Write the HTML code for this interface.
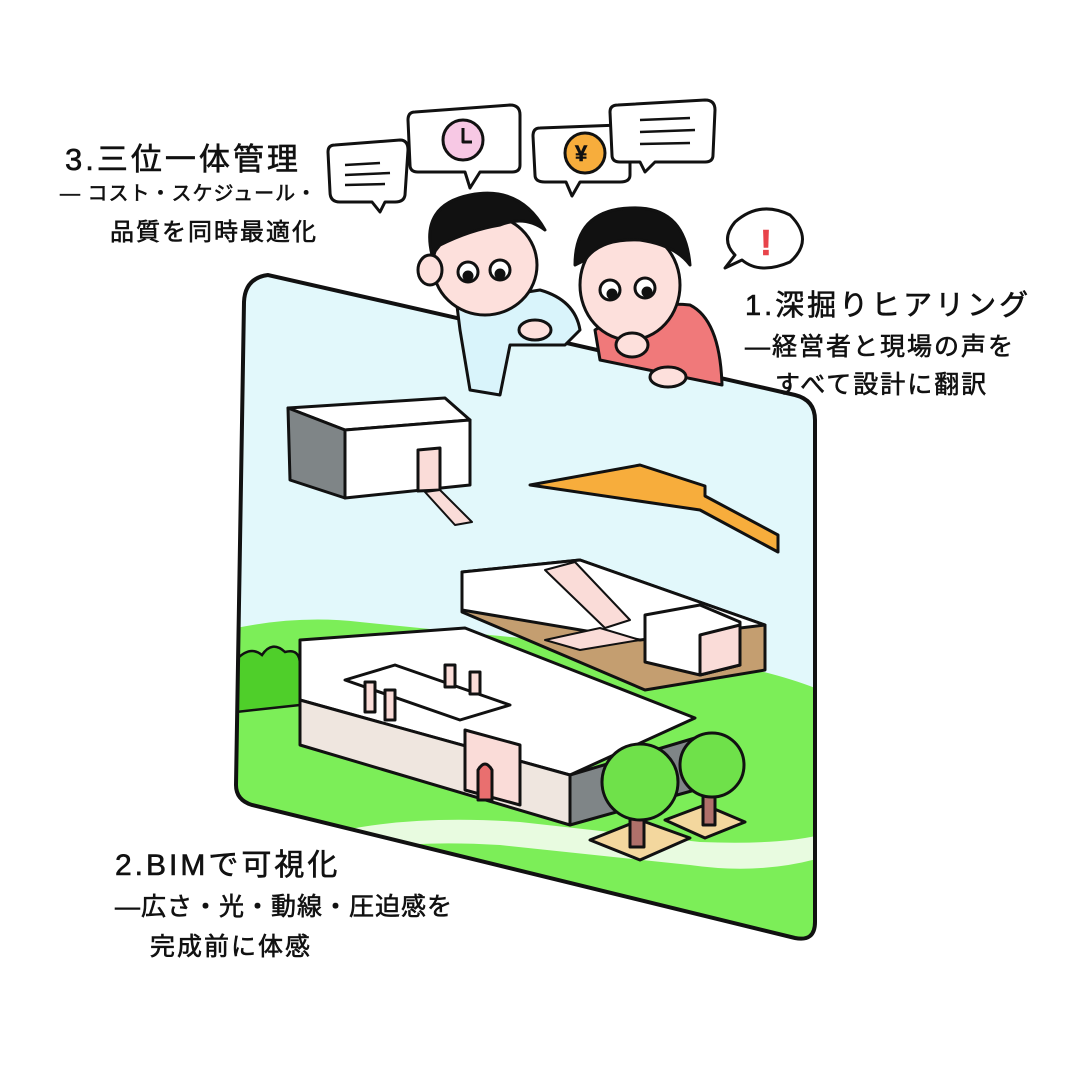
<!DOCTYPE html>
<html><head><meta charset="utf-8"><style>
html,body{margin:0;padding:0;background:#fff}
svg{display:block}
text{font-family:"Liberation Sans","Noto Sans CJK JP",sans-serif;fill:#111;stroke:#111;stroke-width:0.6}
</style></head><body>
<svg width="1072" height="1080" viewBox="0 0 1072 1080" xmlns="http://www.w3.org/2000/svg">
<defs>
<clipPath id="pc"><path d="M268,275 Q245,278 244,302 L236,785 Q236,800 252,805 L795,938 Q815,942 815,922 L815,420 Q815,400 795,395 Z"/></clipPath>
</defs>
<g clip-path="url(#pc)">
<rect x="230" y="260" width="600" height="700" fill="#e2f8fb"/>
<path d="M236,628 Q300,615 360,622 L640,650 Q760,665 820,690 L820,960 L230,960 Z" fill="#7cee58"/>
<path d="M345,830 Q420,815 520,822 L700,842 Q780,845 820,835 L820,858 Q760,875 690,865 L500,845 Q420,840 355,850 Z" fill="#e8fbe0"/>
<path d="M236,660 Q250,645 262,655 Q272,640 285,652 Q300,648 300,665 L300,705 L236,712 Z" fill="#4fcf2a" stroke="#111" stroke-width="2.5"/>
</g>
<path d="M268,275 Q245,278 244,302 L236,785 Q236,800 252,805 L795,938 Q815,942 815,922 L815,420 Q815,400 795,395 Z" fill="none" stroke="#111" stroke-width="4"/>

<g stroke="#111" stroke-width="3" stroke-linejoin="round">
<polygon points="288,408 445,398 470,420 345,430" fill="#fff"/>
<polygon points="288,408 345,430 345,498 290,480" fill="#7f8587"/>
<polygon points="345,430 470,420 470,485 345,498" fill="#fff"/>
<polygon points="418,450 440,448 440,490 418,491" fill="#fadcd8"/>
<polygon points="425,492 440,490 472,522 455,525" fill="#fadcd8" stroke-width="2"/>
<polygon points="530,485 640,465 705,486 705,496 778,535 778,552 700,510" fill="#f7ad3c"/>
<polygon points="462,572 580,560 765,625 765,670 645,690 462,612" fill="#c49e70"/>
<polygon points="462,572 580,560 765,625 640,640 462,610" fill="#fff"/>
<polygon points="545,570 575,562 630,620 605,628" fill="#fadcd8" stroke-width="2"/>
<polygon points="545,640 600,628 640,640 580,650" fill="#fadcd8" stroke-width="2"/>
<polygon points="645,615 700,605 740,622 740,665 700,675 645,662" fill="#fff"/>
<polygon points="700,635 740,625 740,665 700,675" fill="#fadcd8"/>
<polygon points="300,640 465,628 695,718 570,775 300,700" fill="#fff"/>
<polygon points="300,700 570,775 570,825 300,745" fill="#efe6df"/>
<polygon points="570,775 695,738 695,790 570,825" fill="#7f8587"/>
<polygon points="465,730 520,745 520,805 465,790" fill="#fadcd8"/>
<polygon points="345,680 395,665 510,705 460,720" fill="#fff"/>
<rect x="365" y="682" width="10" height="30" fill="#fadcd8"/>
<rect x="385" y="690" width="10" height="30" fill="#fadcd8"/>
<rect x="445" y="665" width="10" height="22" fill="#fadcd8"/>
<rect x="470" y="672" width="10" height="22" fill="#fadcd8"/>
<path d="M478,800 L478,770 Q485,758 492,770 L492,800 Z" fill="#e96f6f"/>
<polygon points="590,840 640,820 690,838 640,860" fill="#f3d79e"/>
<polygon points="665,820 705,805 745,822 705,838" fill="#f3d79e"/>
<rect x="630" y="795" width="14" height="52" fill="#b0706a"/>
<rect x="703" y="775" width="12" height="50" fill="#b0706a"/>
<circle cx="640" cy="782" r="38" fill="#6fe14a"/>
<circle cx="712" cy="765" r="32" fill="#6fe14a"/>
</g>

<g stroke="#111" stroke-width="3" stroke-linejoin="round">
<path d="M455,290 Q480,300 540,290 Q575,300 580,330 L565,345 L510,345 L500,395 L470,390 L460,330 Z" fill="#d9f4fb"/>
<ellipse cx="485" cy="265" rx="52" ry="50" fill="#fde0dc"/>
<path d="M432,255 Q420,205 470,195 Q520,185 545,230 Q525,215 500,225 Q470,230 440,245 Z" fill="#111"/>
<ellipse cx="430" cy="270" rx="12" ry="15" fill="#fde0dc"/>
<circle cx="468" cy="272" r="10" fill="#fff"/><circle cx="500" cy="270" r="10" fill="#fff"/>
<circle cx="468" cy="276" r="4" fill="#111"/><circle cx="500" cy="274" r="4" fill="#111"/>
<path d="M595,330 Q640,300 690,305 Q720,320 722,385 L600,360 Z" fill="#f0797a"/>
<ellipse cx="630" cy="285" rx="50" ry="55" fill="#fde0dc"/>
<path d="M575,265 Q575,210 630,208 Q685,205 690,265 Q675,245 640,240 Q600,238 585,260 Z" fill="#111"/>
<circle cx="610" cy="290" r="10" fill="#fff"/><circle cx="645" cy="288" r="10" fill="#fff"/>
<circle cx="612" cy="294" r="4" fill="#111"/><circle cx="647" cy="292" r="4" fill="#111"/>
<ellipse cx="632" cy="345" rx="16" ry="12" fill="#fde0dc"/>
<ellipse cx="668" cy="377" rx="18" ry="10" fill="#fde0dc"/>
<ellipse cx="535" cy="330" rx="16" ry="10" fill="#fde0dc"/>
<path d="M335,145 L400,140 Q408,140 408,150 L405,195 Q404,202 395,202 L385,202 L380,212 L372,202 L340,202 Q330,202 330,192 L328,152 Q328,145 335,145Z" fill="#fff"/>
<path d="M415,112 L510,105 Q520,105 520,115 L520,165 Q520,172 512,172 L480,172 L470,188 L465,172 L418,172 Q410,172 410,165 L408,120 Q408,112 415,112Z" fill="#fff"/>
<circle cx="463" cy="140" r="20" fill="#f7c8e4"/>
<path d="M540,128 L620,125 Q630,125 630,135 L630,175 Q630,182 620,182 L580,182 L572,196 L566,182 L545,182 Q535,182 535,175 L533,136 Q533,128 540,128Z" fill="#fff"/>
<circle cx="585" cy="153" r="20" fill="#f7ad3c"/>
<path d="M618,105 L705,100 Q715,100 715,110 L713,155 Q713,162 705,162 L655,162 L645,172 L640,162 L620,162 Q612,162 612,155 L610,112 Q610,105 618,105Z" fill="#fff"/>
<path d="M735,222 Q760,200 790,215 Q815,240 790,262 Q760,275 742,260 L725,268 L735,255 Q720,240 735,222Z" fill="#fff"/>
<path d="M463,128 L463,142 L472,142" fill="none" stroke-width="3"/>
</g>
<text x="575" y="161" font-size="22" font-weight="bold">¥</text>
<text x="760" y="255" font-size="36" font-weight="bold" style="fill:#e8434a;stroke:#e8434a">!</text>
<g stroke="#111" stroke-width="2.5">
<line x1="345" y1="165" x2="380" y2="163"/><line x1="345" y1="175" x2="390" y2="173"/><line x1="345" y1="185" x2="385" y2="184"/>
<line x1="640" y1="120" x2="690" y2="118"/><line x1="640" y1="132" x2="695" y2="130"/><line x1="640" y1="144" x2="690" y2="143"/>
</g>

<text x="65" y="170" font-size="31" letter-spacing="3">3.三位一体管理</text>
<text x="60" y="200" font-size="20" letter-spacing="1">— コスト・スケジュール・</text>
<text x="110" y="240" font-size="24" letter-spacing="2">品質を同時最適化</text>
<text x="745" y="315" font-size="29" letter-spacing="3">1.深掘りヒアリング</text>
<text x="745" y="355" font-size="25" letter-spacing="2">—経営者と現場の声を</text>
<text x="775" y="393" font-size="25" letter-spacing="2">すべて設計に翻訳</text>
<text x="115" y="875" font-size="30" letter-spacing="3">2.BIMで可視化</text>
<text x="115" y="915" font-size="25" letter-spacing="1">—広さ・光・動線・圧迫感を</text>
<text x="150" y="955" font-size="25" letter-spacing="2">完成前に体感</text>
</svg>
</body></html>
